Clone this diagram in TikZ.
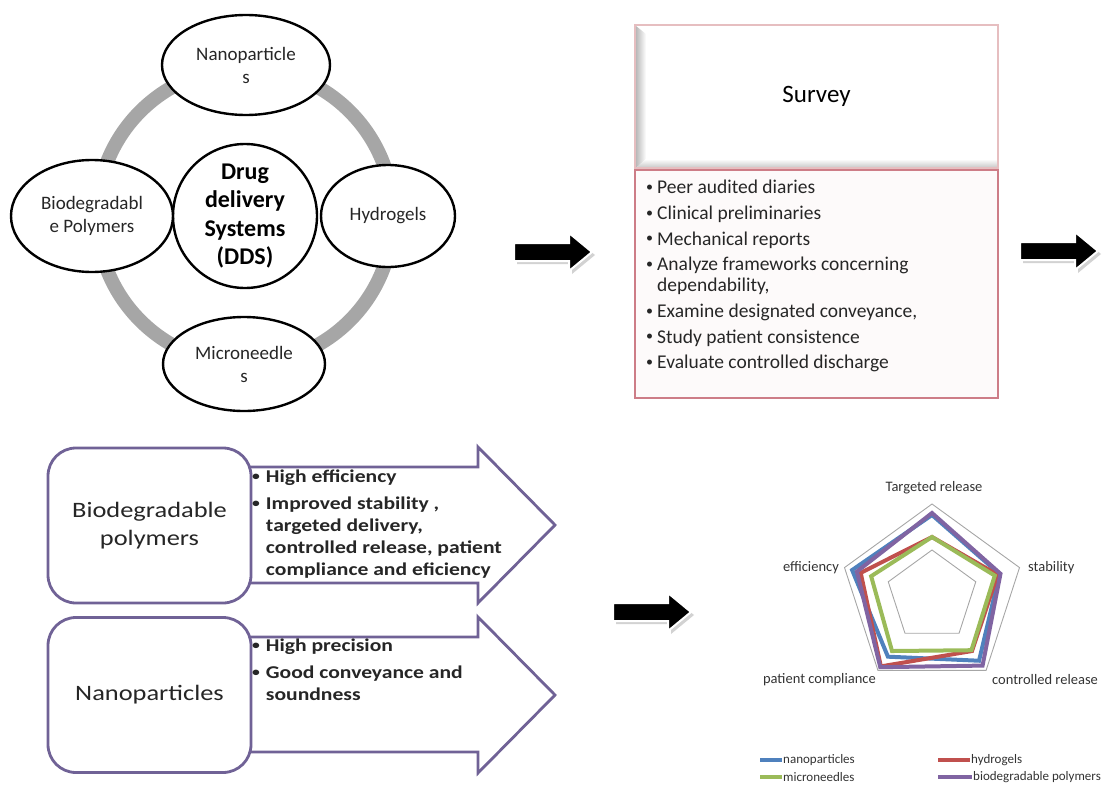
\documentclass[tikz,border=0pt]{standalone}
\usepackage{fontspec}
\setmainfont{Carlito}
\newfontfamily\widefont[FakeStretch=1.2]{Carlito}
\usetikzlibrary{shapes.geometric}

\definecolor{ringgray}{RGB}{166,166,166}
\definecolor{boxpurple}{RGB}{112,98,150}
\definecolor{surveytop}{RGB}{230,190,192}
\definecolor{surveyred}{RGB}{205,125,135}
\definecolor{surveyfill}{RGB}{253,250,250}
\definecolor{nanoblue}{RGB}{79,129,189}
\definecolor{hydrored}{RGB}{192,80,77}
\definecolor{microgreen}{RGB}{155,187,89}
\definecolor{biopurple}{RGB}{128,100,162}

\newcommand{\smallbullet}{\raisebox{0.12em}{\scalebox{0.72}{\textbullet}}}

\begin{document}
\begin{tikzpicture}[x=1pt, y=-1pt,
    bubble/.style={ellipse, draw=black, line width=2.4pt, fill=white, inner sep=0pt, align=center, text=black!85, font={\fontsize{19}{23}\selectfont}},
    hub/.style={circle, draw=black, line width=2.4pt, fill=white, minimum size=144pt, inner sep=0pt, align=center, font={\fontsize{24}{28.5}\selectfont\bfseries}},
    panel/.style={rectangle, draw=#1, line width=1.2pt, inner sep=0pt},
    itemlist/.style={inner sep=0pt, align=left, anchor=north west, text=black!85},
    roundbox/.style={rectangle, rounded corners=28pt, draw=boxpurple, line width=2.8pt, fill=white, minimum width=203pt, minimum height=155pt, align=center, text=black!85, font={\widefont\fontsize{22}{28}\selectfont}},
    flowarrow/.style={draw=boxpurple, line width=2.8pt, fill=white, line join=miter},
    blockarrow/.style={draw=white, line width=2pt, fill=black},
    radargrid/.style={draw=gray!70, line width=0.9pt},
    serie/.style={draw=#1, line width=4pt, line join=miter},
    axislabel/.style={inner sep=0pt, text=black!80, font={\fontsize{14.5}{16}\selectfont}},
    legendtext/.style={inner sep=0pt, anchor=west, text=black!80, font={\fontsize{13}{15}\selectfont}}]

    \useasboundingbox (0,0) rectangle (1107,784);

    % Cycle of delivery systems
    \draw[ringgray, line width=14pt] (245,216) circle[radius=148pt];

    \node (dds)[hub] at (245,216) {Drug\\delivery\\Systems\\(DDS)};
    \node (nano)[bubble, minimum width=168pt, minimum height=100pt] at (246,65) {Nanoparticle\\s};
    \node (hydro)[bubble, minimum width=134pt, minimum height=102pt] at (388,216) {Hydrogels};
    \node (bio)[bubble, minimum width=162pt, minimum height=112pt] at (92,216) {Biodegradabl\\e Polymers};
    \node (micro)[bubble, minimum width=162pt, minimum height=94pt] at (244,364) {Microneedle\\s};

    % Survey panel
    \shade[left color=gray!55, right color=white] (636,26) -- (646,34) -- (646,159) -- (636,168) -- cycle;
    \shade[top color=white, bottom color=gray!45] (636,168) -- (646,159) -- (997,159) -- (997,168) -- cycle;
    \node (survey)[panel=surveytop, minimum width=363pt, minimum height=143pt, font={\fontsize{25}{30}\selectfont}] at (816.5,96.5) {Survey};
    \node (svlist)[panel=surveyred, fill=surveyfill, minimum width=363pt, minimum height=228pt] at (816.5,284) {};
    \node (svitems)[itemlist, font={\fontsize{19.5}{21}\selectfont}] at (646,180) {%
        \smallbullet\hspace{4pt}Peer audited diaries\\[4.7pt]
        \smallbullet\hspace{4pt}Clinical preliminaries\\[4.7pt]
        \smallbullet\hspace{4pt}Mechanical reports\\[4.7pt]
        \smallbullet\hspace{4pt}Analyze frameworks concerning\\
        \hphantom{\smallbullet\hspace{4pt}}dependability,\\[4.7pt]
        \smallbullet\hspace{4pt}Examine designated conveyance,\\[4.7pt]
        \smallbullet\hspace{4pt}Study patient consistence\\[4.7pt]
        \smallbullet\hspace{4pt}Evaluate controlled discharge};

    % Black arrows between the steps
    \foreach \ax/\ay in {514/252, 1020/251, 613/612} {
        \fill[gray!35] (\ax+3,\ay-6) -- ++(55,0) -- ++(0,-10) -- ++(23,19) -- ++(-23,19) -- ++(0,-10) -- ++(-55,0) -- cycle;
        \draw[blockarrow] (\ax,\ay-9) -- ++(55,0) -- ++(0,-10) -- ++(23,19) -- ++(-23,19) -- ++(0,-10) -- ++(-55,0) -- cycle;
    }

    % Comparison of two systems
    \draw[flowarrow] (240,467) -- (478,467) -- (478,447) -- (555,525) -- (478,603) -- (478,583) -- (240,583);
    \draw[flowarrow] (240,637) -- (478,637) -- (478,617) -- (555,695) -- (478,773) -- (478,752) -- (240,752);

    \node (bp)[roundbox] at (149.5,525.5) {Biodegradable\\polymers};
    \node (np)[roundbox] at (149.5,695) {Nanoparticles};

    \node (bpitems)[itemlist, font={\widefont\fontsize{18}{22}\selectfont\bfseries}] at (252,470) {%
        \smallbullet\hspace{6pt}High efficiency\\[5pt]
        \smallbullet\hspace{6pt}Improved stability ,\\
        \hphantom{\smallbullet\hspace{6pt}}targeted delivery,\\
        \hphantom{\smallbullet\hspace{6pt}}controlled release, patient\\
        \hphantom{\smallbullet\hspace{6pt}}compliance and eficiency};
    \node (npitems)[itemlist, font={\widefont\fontsize{18}{22}\selectfont\bfseries}] at (252,639) {%
        \smallbullet\hspace{6pt}High precision\\[5pt]
        \smallbullet\hspace{6pt}Good conveyance and\\
        \hphantom{\smallbullet\hspace{6pt}}soundness};

    % Radar chart
    \begin{scope}[shift={(932,596)}, y=1pt]
        \draw[radargrid] (90:92) -- (18:92) -- (-54:92) -- (-126:92) -- (162:92) -- cycle;
        \draw[radargrid] (90:46) -- (18:46) -- (-54:46) -- (-126:46) -- (162:46) -- cycle;
        \draw[serie=nanoblue] (90:81) -- (18:71) -- (-54:80) -- (-126:75) -- (162:84) -- cycle;
        \draw[serie=hydrored] (90:59) -- (18:69) -- (-54:68) -- (-126:87) -- (162:75) -- cycle;
        \draw[serie=microgreen] (90:59) -- (18:66) -- (-54:67) -- (-126:68) -- (162:64) -- cycle;
        \draw[serie=biopurple] (90:83) -- (18:72) -- (-54:86) -- (-126:88) -- (162:79) -- cycle;
    \end{scope}

    \node (lbtarget)[axislabel] at (934,488) {Targeted release};
    \node (lbeff)[axislabel, anchor=east] at (839,568) {efficiency};
    \node (lbstab)[axislabel, anchor=west] at (1028,568) {stability};
    \node (lbpat)[axislabel, anchor=east] at (876,680) {patient compliance};
    \node (lbctrl)[axislabel, anchor=west] at (992,680) {controlled release};

    % Legend
    \draw[serie=nanoblue] (760,760) -- (782,760);
    \node (lgnano)[legendtext] at (783,760) {nanoparticles};
    \draw[serie=hydrored] (938,760) -- (970,760);
    \node (lghydro)[legendtext] at (971,760) {hydrogels};
    \draw[serie=microgreen] (760,777) -- (782,777);
    \node (lgmicro)[legendtext] at (783,777) {microneedles};
    \draw[serie=biopurple] (938,777) -- (972,777);
    \node (lgbio)[legendtext] at (973,777) {biodegradable polymers};
\end{tikzpicture}
\end{document}
